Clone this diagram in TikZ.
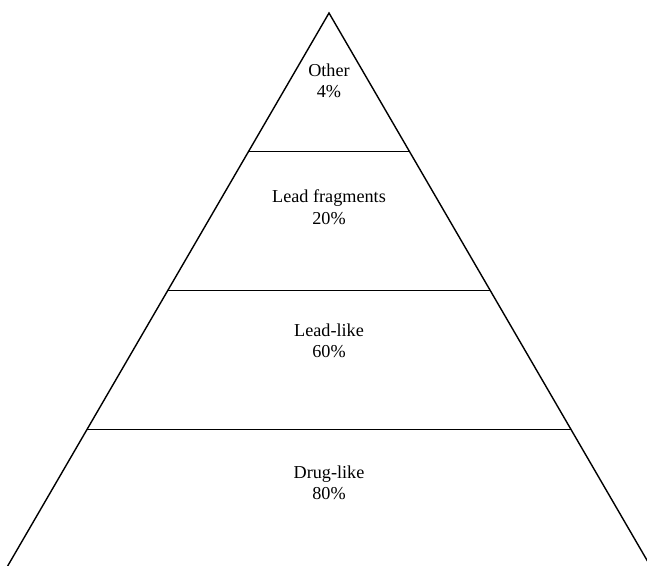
\documentclass[tikz,border=0pt]{standalone}
\usepackage{fontspec}
\setmainfont{Liberation Serif}
\usetikzlibrary{calc, positioning}

\begin{document}
\begin{tikzpicture}[
    x=1pt, y=-1pt,
    edge/.style={line width=1.4pt, black},
    tier/.style={align=center, font=\fontsize{18.2}{21.5}\selectfont, inner sep=0pt}
]

\useasboundingbox (0,0) rectangle (647,565);
\clip (0,0) rectangle (647,565);

% Pyramid outline (base lies just below the page)
\coordinate (apex) at (329,13);
\coordinate (baseL) at (6.5,568);
\coordinate (baseR) at (651.5,568);

\draw[edge] (baseL) -- (apex) -- (baseR);

% Tier boundaries
\foreach \t/\n in {0.25/a, 0.5/b, 0.75/c} {
    \coordinate (\n L) at ($(apex)!\t!(baseL)$);
    \coordinate (\n R) at ($(apex)!\t!(baseR)$);
    \draw[edge] (\n L) -- (\n R);
}

% Tier labels
\node[tier] (other) at (329,81) {Other\\4\%};
\node[tier] (frag) at (329,207) {Lead fragments\\20\%};
\node[tier] (leadlike) at (329,341) {Lead-like\\60\%};
\node[tier] (druglike) at (329,483) {Drug-like\\80\%};

\end{tikzpicture}
\end{document}
